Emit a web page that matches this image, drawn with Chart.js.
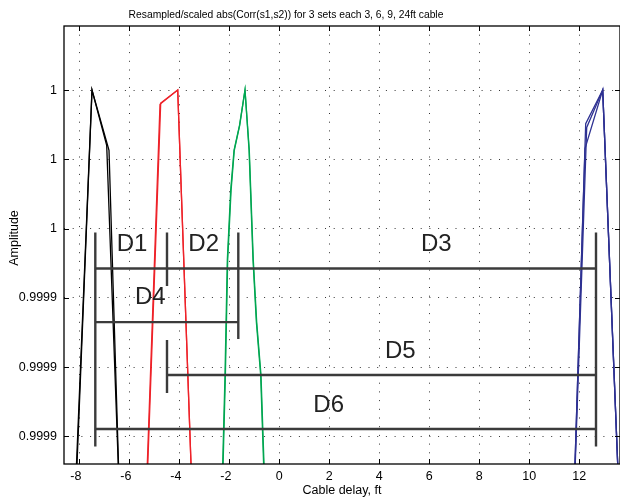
<!DOCTYPE html>
<html>
<head>
<meta charset="utf-8">
<script src="https://cdn.jsdelivr.net/npm/chart.js@4.4.0/dist/chart.umd.min.js"></script>
<style>
  html, body { margin: 0; padding: 0; background: #fff; }
  #wrap { width: 620px; height: 500px; }
</style>
</head>
<body>
<div id="wrap"><canvas id="corrChart" width="620" height="500"></canvas></div>
<script>
const FONT = '"Liberation Sans", Arial, Helvetica, sans-serif';

// --- axes ---
const xTicks = [-8, -6, -4, -2, 0, 2, 4, 6, 8, 10, 12];
const yTicks = [1, 0.99998, 0.99996, 0.99994, 0.99992, 0.9999];
const yTickLabels = ['1', '1', '1', '0.9999', '0.9999', '0.9999'];
const xRange = [-8.612, 13.628];
const yRange = [0.999892, 1.0000185];

// --- correlation peaks (3 runs per cable) ---
// 3ft - black
const black1X = [-8.112, -7.492, -6.812, -6.432];
const black1Y = [0.999892, 1, 0.9999826, 0.999892];
const black2X = [-8.092, -7.492, -6.904, -6.442];
const black2Y = [0.999892, 1, 0.999984, 0.999892];
// 6ft - red
const red1X = [-5.28, -4.772, -4.064, -3.532];
const red1Y = [0.999892, 0.9999959, 1, 0.999892];
const red2X = [-5.26, -4.744, -4.064, -3.532];
const red2Y = [0.999892, 0.99999625, 1, 0.999892];
// 9ft - green
const green1X = [-2.264, -2.172, -2.08, -1.944, -1.812, -1.592, -1.372, -1.2, -1.04, -0.904, -0.732, -0.612];
const green1Y = [0.999892, 0.9999177, 0.9999509, 0.9999711, 0.9999826, 0.9999898, 1, 0.9999826, 0.9999509, 0.999933, 0.9999177, 0.999892];
const green2X = [-2.248, -2.156, -2.064, -1.928, -1.8, -1.584, -1.372, -1.21, -1.052, -0.918, -0.746, -0.628];
const green2Y = [0.999892, 0.9999177, 0.9999509, 0.9999711, 0.9999826, 0.9999898, 1, 0.9999826, 0.9999509, 0.999933, 0.9999177, 0.999892];
// 24ft - blue
const blue1X = [11.828, 12.256, 12.936, 13.536];
const blue1Y = [0.999892, 0.9999903, 1, 0.999892];
const blue2X = [11.838, 12.296, 12.936, 13.536];
const blue2Y = [0.999892, 0.9999892, 1, 0.999892];
const blue3X = [11.828, 12.228, 12.936, 13.536];
const blue3Y = [0.999892, 0.9999831, 1, 0.999892];

// --- D1..D6 distance brackets ---
const dLeftBarX = [-7.36, -7.36];
const dLeftBarY = [0.99995886, 0.99989702];
const dRightBarX = [12.668, 12.668];
const dRightBarY = [0.99995886, 0.99989702];
const d12SepX = [-4.492, -4.492];
const d12SepY = [0.99995886, 0.99994338];
const d24SepX = [-1.64, -1.64];
const d24SepY = [0.99995886, 0.99992808];
const d3LineX = [-7.36, 12.668];
const d3LineY = [0.99994848, 0.99994848];
const d4LineX = [-7.36, -1.64];
const d4LineY = [0.99993298, 0.99993298];
const d5BarX = [-4.492, -4.492];
const d5BarY = [0.9999278, 0.9999125];
const d5LineX = [-4.492, 12.668];
const d5LineY = [0.9999177, 0.9999177];
const d6LineX = [-7.36, 12.668];
const d6LineY = [0.99990212, 0.99990212];

const dNames = ['D1', 'D2', 'D3', 'D4', 'D5', 'D6'];
const dNameX = [-6.504, -3.64, 5.668, -5.772, 4.228, 1.36];
const dNameY = [0.99995356, 0.99995356, 0.99995356, 0.99993818, 0.99992268, 0.99990712];

function pts(xs, ys) {
    return xs.map((x, i) => ({ x: x, y: ys[i] }));
}

function curve(xs, ys, color) {
    return {
        data: pts(xs, ys),
        borderColor: color,
        borderWidth: 1.3,
        pointRadius: 0,
        tension: 0,
        order: 2
    };
}

function bracket(xs, ys) {
    return {
        data: pts(xs, ys),
        borderColor: '#3b3b3b',
        borderWidth: 2.4,
        pointRadius: 0,
        tension: 0,
        order: 1
    };
}

const datasets = [
    curve(black1X, black1Y, '#000000'),
    curve(black2X, black2Y, '#000000'),
    curve(red1X, red1Y, '#ee2229'),
    curve(red2X, red2Y, '#ee2229'),
    curve(green1X, green1Y, '#00a651'),
    curve(green2X, green2Y, '#00a651'),
    curve(blue1X, blue1Y, '#2e3192'),
    curve(blue2X, blue2Y, '#2e3192'),
    curve(blue3X, blue3Y, '#2e3192'),
    bracket(dLeftBarX, dLeftBarY),
    bracket(dRightBarX, dRightBarY),
    bracket(d12SepX, d12SepY),
    bracket(d24SepX, d24SepY),
    bracket(d3LineX, d3LineY),
    bracket(d4LineX, d4LineY),
    bracket(d5BarX, d5BarY),
    bracket(d5LineX, d5LineY),
    bracket(d6LineX, d6LineY)
];

// frame, inward ticks, titles and D labels
const matlabLook = {
    id: 'matlabLook',
    afterDatasetsDraw(chart) {
        const { ctx, chartArea: a, scales: { x, y } } = chart;
        ctx.save();

        ctx.fillStyle = '#222';
        ctx.font = '24px ' + FONT;
        ctx.textAlign = 'left';
        ctx.textBaseline = 'alphabetic';
        dNames.forEach((name, i) => {
            ctx.fillText(name, x.getPixelForValue(dNameX[i]), y.getPixelForValue(dNameY[i]));
        });

        ctx.strokeStyle = '#000';
        ctx.lineWidth = 1.3;
        ctx.strokeRect(a.left, a.top, a.right - a.left, a.bottom - a.top);

        ctx.lineWidth = 1;
        ctx.beginPath();
        xTicks.forEach(v => {
            const px = Math.round(x.getPixelForValue(v)) + 0.5;
            ctx.moveTo(px, a.bottom); ctx.lineTo(px, a.bottom - 5);
            ctx.moveTo(px, a.top); ctx.lineTo(px, a.top + 5);
        });
        yTicks.forEach(v => {
            const py = Math.round(y.getPixelForValue(v)) + 0.5;
            ctx.moveTo(a.left, py); ctx.lineTo(a.left + 5, py);
            ctx.moveTo(a.right, py); ctx.lineTo(a.right - 5, py);
        });
        ctx.stroke();

        ctx.fillStyle = '#000';
        ctx.font = '10.3px ' + FONT;
        ctx.textAlign = 'center';
        ctx.fillText('Resampled/scaled abs(Corr(s1,s2)) for 3 sets each 3, 6, 9, 24ft cable', 286, 18);

        ctx.font = '12.5px ' + FONT;
        ctx.translate(15, 238);
        ctx.rotate(-Math.PI / 2);
        ctx.textBaseline = 'middle';
        ctx.fillText('Amplitude', 0, 0);
        ctx.restore();
    }
};

new Chart(document.getElementById('corrChart'), {
    type: 'line',
    data: { datasets: datasets },
    options: {
        responsive: false,
        animation: false,
        devicePixelRatio: 1,
        layout: { padding: { top: 26, right: 0, left: 0, bottom: 0 } },
        plugins: {
            legend: { display: false },
            tooltip: { enabled: false },
            title: { display: false }
        },
        scales: {
            x: {
                type: 'linear',
                min: xRange[0],
                max: xRange[1],
                afterBuildTicks: s => { s.ticks = xTicks.map(v => ({ value: v })); },
                afterFit: s => { s.height = 36; },
                ticks: {
                    color: '#000',
                    font: { family: FONT, size: 12.5 },
                    padding: 5,
                    maxRotation: 0,
                    autoSkip: false,
                    callback: v => (v < 0 ? String(v) + '  ' : String(v))
                },
                grid: { color: 'rgba(0,0,0,0.8)', lineWidth: 1, drawTicks: false },
                border: { display: false, dash: [1, 7.7] },
                title: {
                    display: true,
                    text: 'Cable delay, ft',
                    color: '#000',
                    font: { family: FONT, size: 12.5 },
                    padding: { top: 0, bottom: 2 }
                }
            },
            y: {
                type: 'linear',
                min: yRange[0],
                max: yRange[1],
                afterBuildTicks: s => { s.ticks = yTicks.map(v => ({ value: v })); },
                afterFit: s => { s.width = 64; },
                ticks: {
                    color: '#000',
                    font: { family: FONT, size: 12.5 },
                    padding: 7,
                    crossAlign: 'near',
                    callback: (v, i) => yTickLabels[i]
                },
                grid: { color: 'rgba(0,0,0,0.8)', lineWidth: 1, drawTicks: false },
                border: { display: false, dash: [1, 7.7] }
            }
        }
    },
    plugins: [matlabLook]
});
</script>
</body>
</html>
